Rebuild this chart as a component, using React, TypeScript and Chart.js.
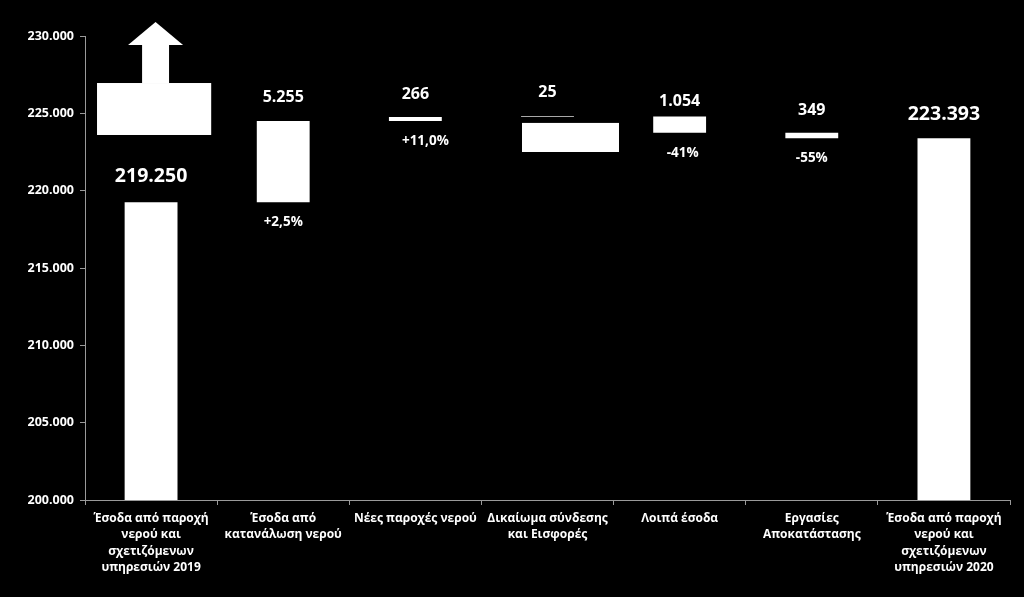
import React, { useEffect, useRef } from "react";
import { Chart, registerables } from "chart.js";

Chart.register(...registerables);

// ---- data ----
const categories: string[][] = [
  ["Έσοδα από παροχή", "νερού και", "σχετιζόμενων", "υπηρεσιών 2019"],
  ["Έσοδα από", "κατανάλωση νερού"],
  ["Νέες παροχές νερού"],
  ["Δικαίωμα σύνδεσης", "και Εισφορές"],
  ["Λοιπά έσοδα"],
  ["Εργασίες", "Αποκατάστασης"],
  ["Έσοδα από παροχή", "νερού και", "σχετιζόμενων", "υπηρεσιών 2020"],
];
const values = [219250, 5255, 266, 25, -1054, -349, 223393];
const isTotal = [true, false, false, false, false, false, true];
const percentLabels = ["", "+2,5%", "+11,0%", "", "-41%", "-55%", ""];
const yMin = 200000;
const yMax = 230000;
const yStep = 5000;
// decorative callouts (value ranges)
const callout2019 = [223600, 226960];
const arrowShaftTop = 229420;
const arrowTip = 230900;
const calloutConnection = [222500, 224380];

// ---- styles ----
const FONT = "'Open Sans', 'DejaVu Sans', sans-serif";
const barColors = ["#fff", "#fff", "#fff", "#a8a8a8", "#fff", "#fff", "#fff"];
const valueLabelLift = [26, 24, 22, 23, 15, 22, 24];
const percentDx = [0, 0, 10, 0, 3, 0, 0];

const fmt = (n: number) => String(Math.abs(n)).replace(/\B(?=(\d{3})+(?!\d))/g, ".");

function buildRanges(): number[][] {
  let run = 0;
  return values.map((v, i) => {
    if (isTotal[i]) {
      run = v;
      return [yMin, v];
    }
    const start = run;
    run += v;
    return [Math.min(start, run), Math.max(start, run)];
  });
}

const overlayPlugin = {
  id: "overlay",
  afterDatasetsDraw(chart: any) {
    const { ctx, scales } = chart;
    const x = scales.x;
    const y = scales.y;
    const catW = x.width / categories.length;
    ctx.save();
    ctx.fillStyle = "#fff";

    // callout box + arrow over first bar
    const c0 = x.getPixelForValue(0);
    const b1Top = y.getPixelForValue(callout2019[1]);
    const b1Bot = y.getPixelForValue(callout2019[0]);
    ctx.fillRect(c0 - 0.409 * catW, b1Top, 0.864 * catW, b1Bot - b1Top);
    const ac = c0 + 0.034 * catW;
    const shaftTopPx = y.getPixelForValue(arrowShaftTop);
    ctx.fillRect(ac - 0.102 * catW, shaftTopPx, 0.204 * catW, b1Top - shaftTopPx);
    ctx.beginPath();
    ctx.moveTo(ac - 0.208 * catW, shaftTopPx);
    ctx.lineTo(ac + 0.208 * catW, shaftTopPx);
    ctx.lineTo(ac, y.getPixelForValue(arrowTip));
    ctx.closePath();
    ctx.fill();

    // callout box next to connection-fees bar
    const c3 = x.getPixelForValue(3);
    const b4Top = y.getPixelForValue(calloutConnection[1]);
    const b4Bot = y.getPixelForValue(calloutConnection[0]);
    ctx.fillRect(c3 - 0.193 * catW, b4Top, 0.734 * catW, b4Bot - b4Top);

    // labels
    const meta = chart.getDatasetMeta(0);
    ctx.textAlign = "center";
    ctx.textBaseline = "middle";
    meta.data.forEach((el: any, i: number) => {
      const top = Math.min(el.y, el.base);
      const bot = Math.max(el.y, el.base);
      ctx.fillStyle = "#fff";
      ctx.font = isTotal[i] ? `bold 19.5px ${FONT}` : `bold 16px ${FONT}`;
      ctx.fillText(fmt(values[i]), el.x, top - valueLabelLift[i]);
      if (percentLabels[i]) {
        ctx.font = `bold 13.5px ${FONT}`;
        ctx.fillText(percentLabels[i], el.x + percentDx[i], bot + 20);
      }
    });
    ctx.restore();
  },
};

export default function App() {
  const ref = useRef<HTMLCanvasElement>(null);
  useEffect(() => {
    if (!ref.current) return;
    const chart = new Chart(ref.current, {
      type: "bar",
      data: {
        labels: categories as any,
        datasets: [
          {
            data: buildRanges() as any,
            backgroundColor: barColors,
            borderWidth: 0,
            barPercentage: 0.4,
            categoryPercentage: 1,
            minBarLength: 1,
          },
        ],
      },
      options: {
        animation: false,
        responsive: false,
        layout: { padding: { top: 36, right: 14, left: 0, bottom: 0 } },
        plugins: { legend: { display: false }, tooltip: { enabled: false } },
        scales: {
          x: {
            grid: {
              offset: true,
              drawOnChartArea: false,
              drawTicks: true,
              tickLength: 5,
              color: "#9a9a9a",
            },
            border: { color: "#9a9a9a", width: 1 },
            ticks: {
              color: "#fff",
              font: { family: FONT, size: 12, weight: "bold", lineHeight: 1.38 },
              padding: 5,
              maxRotation: 0,
              autoSkip: false,
            },
            afterFit: (s: any) => {
              s.height = 97;
            },
          },
          y: {
            min: yMin,
            max: yMax,
            grid: {
              drawOnChartArea: false,
              drawTicks: true,
              tickLength: 5,
              color: "#9a9a9a",
            },
            border: { color: "#9a9a9a", width: 1 },
            ticks: {
              stepSize: yStep,
              color: "#fff",
              padding: 6,
              font: { family: FONT, size: 12.5, weight: "bold" },
              callback: (v: any) => fmt(Number(v)),
            },
            afterFit: (s: any) => {
              s.width = 85;
            },
          },
        },
      },
      plugins: [overlayPlugin],
    });
    return () => chart.destroy();
  }, []);
  return (
    <div
      style={{
        position: "fixed",
        left: 0,
        top: 0,
        width: 1024,
        height: 597,
        background: "#000",
      }}
    >
      <canvas ref={ref} width={1024} height={597} style={{ display: "block" }} />
    </div>
  );
}
